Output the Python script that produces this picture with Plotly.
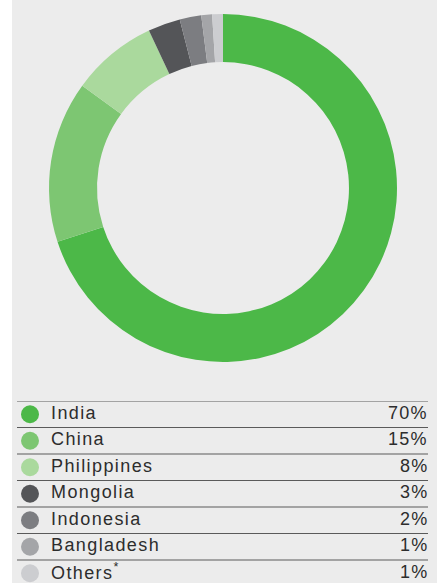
import plotly.graph_objects as go

countries = ["India", "China", "Philippines", "Mongolia", "Indonesia", "Bangladesh", "Others<sup>*</sup>"]
shares = [70, 15, 8, 3, 2, 1, 1]
share_labels = ["70%", "15%", "8%", "3%", "2%", "1%", "1%"]
colors = ["#4cb848", "#7dc672", "#aad99d", "#545558", "#7c7d81", "#a4a5a8", "#cccdd0"]

W, H = 437, 583
BG = "#ececec"
TEXT = "#2d2d2d"
FONT = "Liberation Sans, Arial, sans-serif"

fig = go.Figure()

# donut
cx, cy, r = 223, 188, 174
fig.add_trace(go.Pie(
    values=shares,
    labels=countries,
    marker=dict(colors=colors, line=dict(width=0)),
    hole=0.724,
    sort=False,
    direction="clockwise",
    rotation=0,
    textinfo="none",
    hoverinfo="label+percent",
    showlegend=False,
    domain=dict(x=[(cx - r) / W, (cx + r) / W], y=[1 - (cy + r) / H, 1 - (cy - r) / H]),
))

# table legend
row_top = 401
row_h = 26.5
n = len(countries)
rows = list(range(n))
centers = [i + 0.5 for i in rows]

fig.add_trace(go.Scatter(
    x=[30] * n, y=centers, mode="markers",
    marker=dict(size=18, color=colors, line=dict(width=0)),
    hoverinfo="skip", showlegend=False, xaxis="x", yaxis="y",
))

shapes = [dict(type="rect", xref="paper", yref="paper", x0=12 / W, x1=1, y0=0, y1=1,
               fillcolor=BG, line=dict(width=0), layer="below")]
for i in rows:
    shapes.append(dict(type="line", xref="x", yref="y", x0=17, x1=428, y0=i, y1=i,
                       line=dict(color="#5a5a5a", width=1)))

annotations = []
for i, (c, s) in enumerate(zip(countries, share_labels)):
    annotations.append(dict(x=49, y=i + 0.45, xref="x", yref="y", xanchor="left", yanchor="middle",
                            text=f"<span style='letter-spacing:1.4px'>{c}</span>", showarrow=False,
                            font=dict(family=FONT, size=18, color=TEXT)))
    annotations.append(dict(x=430, y=i + 0.45, xref="x", yref="y", xanchor="right", yanchor="middle",
                            text=f"<span style='letter-spacing:1.2px'>{s}</span>", showarrow=False,
                            font=dict(family=FONT, size=18, color=TEXT)))

fig.update_layout(
    width=W, height=H,
    margin=dict(l=0, r=0, t=0, b=0),
    paper_bgcolor="white", plot_bgcolor="rgba(0,0,0,0)",
    xaxis=dict(range=[0, W], domain=[0, 1], visible=False, fixedrange=True),
    yaxis=dict(range=[(H - row_top) / row_h, 0], domain=[0, 1 - row_top / H], visible=False, fixedrange=True),
    shapes=shapes,
    annotations=annotations,
    font=dict(family=FONT, color=TEXT),
)

fig.write_html("out.html", config={"displayModeBar": False},
               post_script="document.body.style.margin='0';document.body.style.overflow='hidden';")
